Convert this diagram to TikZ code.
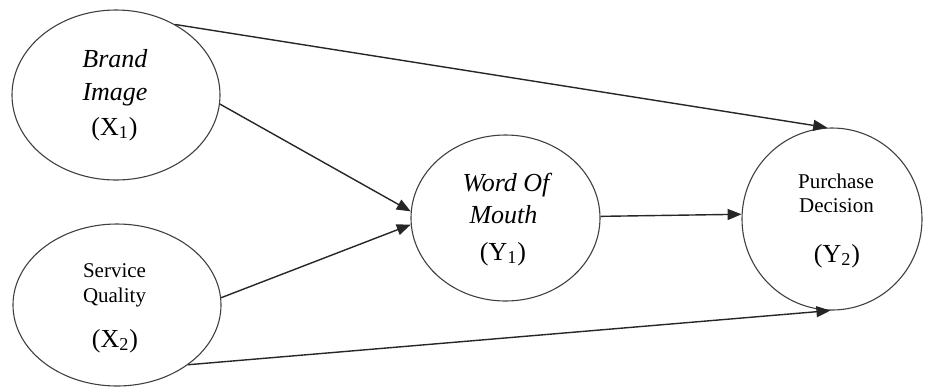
\documentclass[tikz,border=0pt]{standalone}
\usepackage{fontspec}
\setmainfont{Liberation Serif}
\usetikzlibrary{shapes.geometric,arrows.meta}
\begin{document}
\begin{tikzpicture}[x=0.5pt,y=-0.5pt,
  var/.style={draw=black!75, line width=0.55pt, ellipse, inner sep=0pt},
  lbl/.style={anchor=base, inner sep=0pt, font=\fontsize{13}{15}\selectfont},
  lblit/.style={anchor=base, inner sep=0pt, font=\fontsize{13}{15}\selectfont\itshape},
  lblsm/.style={anchor=base, inner sep=0pt, font=\fontsize{10.5}{12}\selectfont},
  conn/.style={line width=0.7pt, draw=black!85, -{Triangle[length=7pt,width=5.5pt]}}]
\useasboundingbox (0,0) rectangle (927,387);
\node[var, minimum width=104pt, minimum height=85pt] (X1) at (116,95) {};
\node[var, minimum width=104pt, minimum height=81pt] (X2) at (117,305) {};
\node[var, minimum width=94.5pt, minimum height=83pt] (Y1) at (505.5,218) {};
\node[var, minimum width=90pt, minimum height=91pt] (Y2) at (832,219) {};
% labels
\node[lblit] (t1a) at (115,67) {Brand};
\node[lblit] (t1b) at (115,100) {Image};
\node[lbl] (t1c) at (114.5,135) {(X\textsubscript{1})};
\node[lblsm] (t2a) at (114.5,277) {Service};
\node[lblsm] (t2b) at (114.5,302) {Quality};
\node[lbl] (t2c) at (115,347) {(X\textsubscript{2})};
\node[lblit] (t3a) at (506,191) {Word Of};
\node[lblit] (t3b) at (503.5,223) {Mouth};
\node[lbl] (t3c) at (503,260) {(Y\textsubscript{1})};
\node[lblsm] (t4a) at (836,188) {Purchase};
\node[lblsm] (t4b) at (836.5,212) {Decision};
\node[lbl] (t4c) at (837,262) {(Y\textsubscript{2})};
% connectors
\draw[conn] (X1.50) -- (Y2.93);
\draw[conn] (X1.-5.5) -- (Y1.176);
\draw[conn] (X2.4) -- (Y1.184);
\draw[conn] (Y1.1.8) -- (Y2.177.5);
\draw[conn] (X2.-40.6) -- (Y2.-91);
\end{tikzpicture}
\end{document}
